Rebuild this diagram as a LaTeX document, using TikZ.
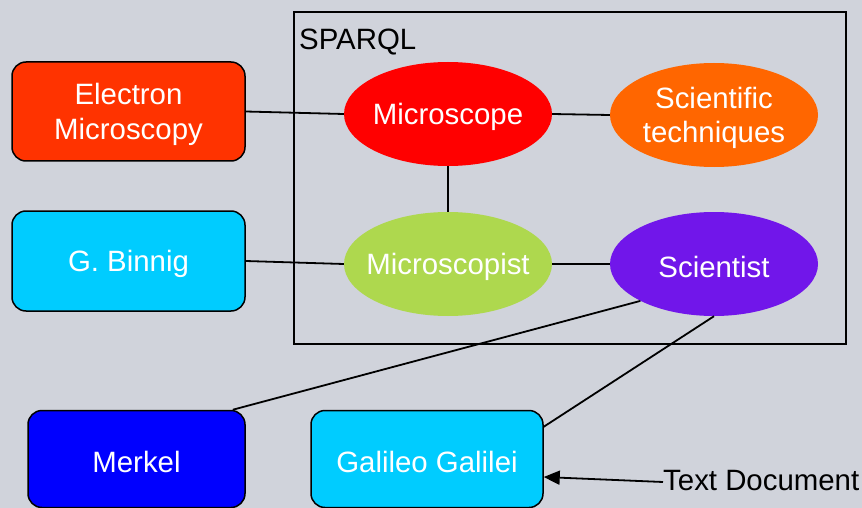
\documentclass[tikz,border=0pt]{standalone}
\usepackage{fontspec}
\setmainfont{Liberation Sans}
\usetikzlibrary{shapes.geometric,arrows.meta}
\definecolor{bgc}{HTML}{D0D3DB}
\definecolor{emc}{HTML}{FF3300}
\definecolor{cyanc}{HTML}{00CCFF}
\definecolor{bluec}{HTML}{0000FF}
\definecolor{micc}{HTML}{FF0000}
\definecolor{scitc}{HTML}{FF6600}
\definecolor{mistc}{HTML}{AED84E}
\definecolor{scic}{HTML}{7116EA}
\tikzset{
  lbl/.style={font=\fontsize{29.4}{34.5}\selectfont, align=center},
  wlbl/.style={lbl, text=white, yshift=-3pt, inner sep=0pt},
  box/.style={rectangle, rounded corners=14pt, draw=black, line width=1.5pt, inner sep=0pt},
  oval/.style={ellipse, minimum width=208pt, minimum height=104pt, inner sep=0pt},
  conn/.style={draw=black, line width=1.8pt},
}
\begin{document}
\begin{tikzpicture}[x=1pt,y=-1pt]
\fill[bgc] (0,0) rectangle (862,508);
\useasboundingbox (0,0) rectangle (862,508);
\clip (0,0) rectangle (862,508);
% SPARQL frame
\draw[line width=2.5pt] (294,12) rectangle (846,344);
\node[lbl, anchor=west, inner sep=0pt] (sparql) at (299,42) {SPARQL};
% boxes
\node[box, fill=emc, minimum width=233pt, minimum height=99pt, label={[wlbl]center:Electron\\Microscopy}] (em) at (128.5,111.5) {};
\node[box, fill=cyanc, minimum width=233pt, minimum height=100pt, label={[wlbl]center:G. Binnig}] (bin) at (128.5,261) {};
\node[box, fill=bluec, minimum width=217pt, minimum height=97pt, label={[wlbl]center:Merkel}] (mer) at (136.5,459) {};
\node[box, fill=cyanc, minimum width=232pt, minimum height=97pt, label={[wlbl]center:Galileo Galilei}] (gal) at (427,459) {};
% ellipses
\node[oval, fill=micc, label={[wlbl]center:Microscope}] (mic) at (448,114) {};
\node[oval, fill=scitc, label={[wlbl]center:Scientific\\techniques}] (sct) at (714,115) {};
\node[oval, fill=mistc, label={[wlbl]center:Microscopist}] (mist) at (448,264) {};
\node[oval, fill=scic, label={[wlbl]center:Scientist}] (sci) at (714,264) {};
% text document
\node[lbl, anchor=west, inner sep=0pt] (td) at (663,481) {Text Document};
% connectors
\draw[conn] (em.east) -- (mic.west);
\draw[conn] (mic.east) -- (sct.west);
\draw[conn] (mic.south) -- (mist.north);
\draw[conn] (bin.east) -- (mist.west);
\draw[conn] (mist.east) -- (sci.west);
\draw[conn] (sci.south west) -- ([xshift=-13pt]mer.north east);
\draw[conn] (sci.south) -- ([yshift=-17pt]gal.north east);
\draw[conn, -{Triangle[length=16pt,width=14pt]}] ([yshift=-1pt]td.west) -- ([yshift=-18pt]gal.east);
\end{tikzpicture}
\end{document}
